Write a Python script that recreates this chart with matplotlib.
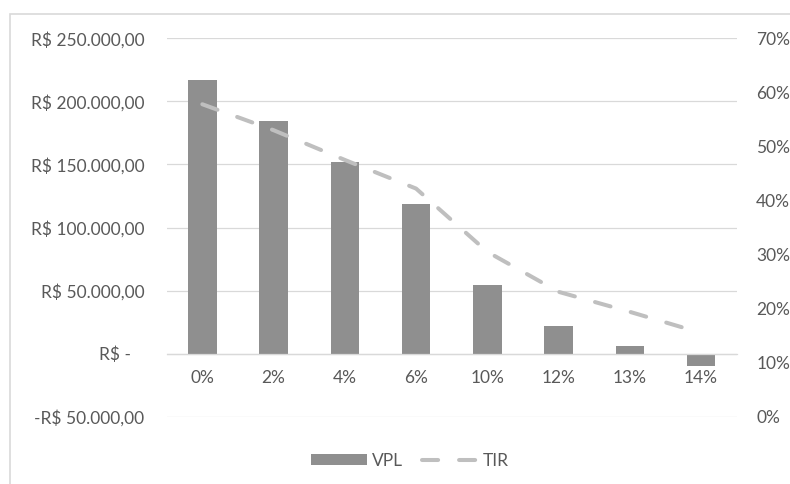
import matplotlib
matplotlib.use('Agg')
import matplotlib.pyplot as plt
from matplotlib.patches import Rectangle, Patch
from matplotlib.lines import Line2D

# data
categories = ['0%', '2%', '4%', '6%', '10%', '12%', '13%', '14%']
vpl = [216900, 184100, 152100, 119000, 54200, 21700, 5800, -10100]
tir = [0.578, 0.530, 0.475, 0.422, 0.305, 0.231, 0.194, 0.155]
left_ticks = [-50000, 0, 50000, 100000, 150000, 200000, 250000]
left_labels = ['-R$ 50.000,00', 'R$ -   ', 'R$ 50.000,00', 'R$ 100.000,00',
               'R$ 150.000,00', 'R$ 200.000,00', 'R$ 250.000,00']
right_ticks = [0, 0.1, 0.2, 0.3, 0.4, 0.5, 0.6, 0.7]
right_labels = ['0%', '10%', '20%', '30%', '40%', '50%', '60%', '70%']

bar_color = '#8f8f8f'
line_color = '#bfbfbf'
grid_color = '#d9d9d9'
text_color = '#595959'

plt.rcParams['font.family'] = ['Lato', 'DejaVu Sans']
plt.rcParams['font.size'] = 12.5

W, H = 790, 484
fig = plt.figure(figsize=(W / 100, H / 100), dpi=100)
ax = fig.add_axes([166.7 / W, 1 - 416.7 / H, 570 / W, 378.4 / H])

x = list(range(len(categories)))
ax.bar(x, vpl, width=0.4, color=bar_color, zorder=2)
ax.set_xlim(-0.5, len(categories) - 0.5)
ax.set_ylim(-50000, 250000)
ax.set_yticks(left_ticks)
ax.set_yticklabels(left_labels)
ax.set_xticks(x)
ax.set_xticklabels(categories)
ax.grid(axis='y', color=grid_color, lw=0.9, zorder=0)
ax.set_axisbelow(True)
for s in ['top', 'left', 'right']:
    ax.spines[s].set_visible(False)
ax.spines['bottom'].set_position(('data', 0))
ax.spines['bottom'].set_color(grid_color)
ax.spines['bottom'].set_linewidth(0.9)
ax.tick_params(axis='y', length=0, pad=16, colors=text_color)
ax.tick_params(axis='x', length=0, pad=12, colors=text_color)

ax2 = ax.twinx()
ax2.plot(x, tir, color=line_color, lw=2.9, linestyle=(0, (4, 5.2)),
         dash_capstyle='round', zorder=3)
ax2.set_ylim(0, 0.7)
ax2.set_yticks(right_ticks)
ax2.set_yticklabels(right_labels)
for s in ax2.spines.values():
    s.set_visible(False)
ax2.tick_params(axis='y', length=0, pad=14, colors=text_color)

# chart border
fig.add_artist(Rectangle((10 / W, -0.1), 1.0, 1.1 - 14 / H, transform=fig.transFigure,
                         fill=False, edgecolor=grid_color, lw=1.2))

handles = [Patch(facecolor=bar_color, edgecolor='none'),
           Line2D([], [], color=line_color, lw=2.9, linestyle=(0, (4, 5.2)),
                  dash_capstyle='round')]
leg = fig.legend(handles, ['VPL', 'TIR'], ncol=2, loc='center',
                 bbox_to_anchor=(410 / W, 1 - 461 / H), frameon=False,
                 handlelength=3.2, handleheight=0.6, handletextpad=0.3,
                 columnspacing=1.1)
for t in leg.get_texts():
    t.set_color(text_color)

fig.savefig('out.png', dpi=100)
